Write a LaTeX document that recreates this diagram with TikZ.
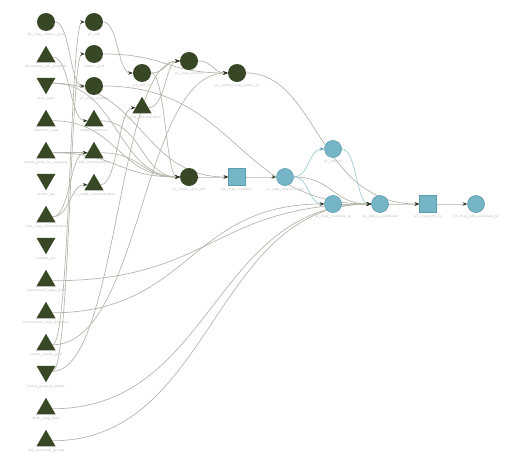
\documentclass[tikz,border=0pt]{standalone}
\usetikzlibrary{shapes.geometric,arrows.meta,backgrounds}
\definecolor{dg}{RGB}{56,72,38}
\definecolor{bl}{RGB}{118,181,198}
\definecolor{blb}{RGB}{90,157,177}
\definecolor{edgec}{RGB}{182,182,172}
\definecolor{bedge}{RGB}{160,203,215}
\definecolor{arrc}{RGB}{45,55,35}
\definecolor{labc}{RGB}{185,185,185}
\tikzset{
  gc/.style={circle, fill=dg, minimum size=18pt, inner sep=0pt},
  tu/.style={regular polygon, regular polygon sides=3, fill=dg, minimum size=22pt, inner sep=0pt},
  td/.style={tu, shape border rotate=180},
  bc/.style={circle, fill=bl, draw=blb, line width=0.6pt, minimum size=17pt, inner sep=0pt},
  bs/.style={rectangle, fill=bl, draw=blb, line width=0.6pt, minimum size=17pt, inner sep=0pt},
  lab/.style={font=\fontsize{3.6}{4}\sffamily, text=labc, inner sep=0pt},
  ed/.style={draw=edgec, line width=0.7pt, -{Stealth[length=4.5pt,width=3.5pt,color=arrc]}},
  bed/.style={draw=bedge, line width=0.7pt, -{Stealth[length=4.5pt,width=3.5pt,color=blb]}}
}
\begin{document}
\begin{tikzpicture}[x=1pt,y=-1pt]
\useasboundingbox (0,0) rectangle (521,471);
% column A
\node[gc] (A1) at (46,22) {};
\node[tu] (A2) at (46,56.75) {};
\node[td] (A3) at (46,83.25) {};
\node[tu] (A4) at (46,120.75) {};
\node[tu] (A5) at (46,152.75) {};
\node[td] (A6) at (46,179.25) {};
\node[tu] (A7) at (46,216.75) {};
\node[td] (A8) at (46,243.25) {};
\node[tu] (A9) at (46,280.75) {};
\node[tu] (A10) at (46,312.75) {};
\node[tu] (A11) at (46,344.75) {};
\node[td] (A12) at (46,371.25) {};
\node[tu] (A13) at (46,408.75) {};
\node[tu] (A14) at (46,440.75) {};
% column B
\node[gc] (B1) at (94,22) {};
\node[gc] (B2) at (94,54) {};
\node[gc] (B3) at (94,86) {};
\node[tu] (B4) at (94,120.75) {};
\node[tu] (B5) at (94,152.75) {};
\node[tu] (B6) at (94,184.75) {};
% further columns
\node[gc] (C1) at (142,73) {};
\node[tu] (C2) at (142,107.75) {};
\node[gc] (D1) at (189,61) {};
\node[gc] (D2) at (189,177) {};
\node[gc] (E1) at (237,73) {};
\node[bs] (E2) at (237,177) {};
\node[bc] (F) at (285,177) {};
\node[bc] (G1) at (333,149) {};
\node[bc] (G2) at (333,204) {};
\node[bc] (H) at (380,204) {};
\node[bs] (I) at (428,204) {};
\node[bc] (J) at (476,204) {};
% labels
\node[lab] (lA1) at (46,35) {p1\_map\_mission\_grid};
\node[lab] (lA2) at (46,67) {boundaries\_tdc\_shapefile};
\node[lab] (lA3) at (46,99) {map\_login};
\node[lab] (lA4) at (46,131) {inventory\_map};
\node[lab] (lA5) at (46,163) {subset\_grids\_for\_mapping};
\node[lab] (lA6) at (46,195) {month\_list};
\node[lab] (lA7) at (46,227) {read\_map\_characteristics};
\node[lab] (lA8) at (46,259) {bounds\_list};
\node[lab] (lA9) at (46,291) {commonsurf\_map\_data};
\node[lab] (lA10) at (46,323) {commonsurf\_map\_boundary};
\node[lab] (lA11) at (46,355) {render\_tmesis\_grid};
\node[lab] (lA12) at (46,387) {joined\_grouped\_subset};
\node[lab] (lA13) at (46,419) {fetch\_map\_data};
\node[lab] (lA14) at (46,451) {add\_download\_groups};
\node[lab] (lB1) at (94,35) {p1\_tdd};
\node[lab] (lB2) at (94,67) {mission\_grid};
\node[lab] (lB3) at (94,99) {p1\_map\_mission};
\node[lab] (lB4) at (94,131) {subset\_inventory};
\node[lab] (lB5) at (94,163) {add\_characteristics};
\node[lab] (lB6) at (94,195) {p1\_render\_characteristics};
\node[lab] (lC1) at (142,86) {p1\_tdd\_m};
\node[lab] (lC2) at (142,118) {p1\_grid\_characteristics};
\node[lab] (lD1) at (189,74) {p1\_map\_mission};
\node[lab] (lD2) at (189,190) {p1\_render\_grid\_sub};
\node[lab] (lE1) at (237,86) {p1\_render\_map\_render\_m};
\node[lab] (lE2) at (237,190) {p1\_map\_inventory};
\node[lab] (lF) at (285,190) {p1\_map\_inventory\_ani};
\node[lab] (lG1) at (333,162) {p1\_tdd\_tp};
\node[lab] (lG2) at (333,217) {p1\_map\_inventory\_tp};
\node[lab] (lH) at (380,217) {p1\_tdd\_tp\_combined};
\node[lab] (lI) at (428,217) {p1\_map\_tdd\_tp};
\node[lab] (lJ) at (476,217) {p1\_map\_tdd\_combined\_tp};
% edges
\begin{scope}[on background layer]
\draw[ed] (A1) .. controls +(24,0) and +(-24,0) .. (B3);
\draw[ed] (B1) .. controls +(24,0) and +(-24,0) .. (C1);
\draw[ed] (A2) .. controls +(24,0) and +(-24,0) .. (B4);
\draw[ed] (A3) .. controls +(71.5,0) and +(-71.5,0) .. (D2);
\draw[ed] (A3) .. controls +(95.5,0) and +(-95.5,0) .. (E2);
\draw[ed] (A4) .. controls +(71.5,0) and +(-71.5,0) .. (D2);
\draw[ed] (A5) .. controls +(24,0) and +(-24,0) .. (B5);
\draw[ed] (A5) .. controls +(71.5,0) and +(-71.5,0) .. (D2);
\draw[ed] (A7) .. controls +(24,0) and +(-24,0) .. (B6);
\draw[ed] (A7) .. controls +(24,0) and +(-24,0) .. (B5);
\draw[ed] (A11) .. controls +(24,0) and +(-24,0) .. (B1);
\draw[ed] (A12) .. controls +(24,0) and +(-24,0) .. (B2);
\draw[ed] (A12) .. controls +(71.5,0) and +(-71.5,0) .. (D1);
\draw[ed] (A11) .. controls +(95.5,0) and +(-95.5,0) .. (E1);
\draw[ed] (B6) .. controls +(24,0) and +(-24,0) .. (C2);
\draw[ed] (C1) .. controls +(23.5,0) and +(-23.5,0) .. (D1);
\draw[ed] (C2) .. controls +(23.5,0) and +(-23.5,0) .. (D1);
\draw[ed] (C1) .. controls +(23.5,0) and +(-23.5,0) .. (D2);
\draw[ed] (B4) .. controls +(47.5,0) and +(-47.5,0) .. (D2);
\draw[ed] (B5) .. controls +(47.5,0) and +(-47.5,0) .. (D2);
\draw[ed] (D1) .. controls +(24,0) and +(-24,0) .. (E1);
\draw[ed] (B2) .. controls +(71.5,0) and +(-71.5,0) .. (E1);
\draw[ed] (D2) .. controls +(24,0) and +(-24,0) .. (E2);
\draw[ed] (E2) .. controls +(24,0) and +(-24,0) .. (F);
\draw[bed] (F) .. controls +(24,0) and +(-24,0) .. (G1);
\draw[bed] (F) .. controls +(24,0) and +(-24,0) .. (G2);
\draw[ed] (F) .. controls +(47.5,0) and +(-47.5,0) .. (H);
\draw[bed] (G1) .. controls +(23.5,0) and +(-23.5,0) .. (H);
\draw[ed] (G2) .. controls +(23.5,0) and +(-23.5,0) .. (H);
\draw[ed] (H) .. controls +(24,0) and +(-24,0) .. (I);
\draw[ed] (I) .. controls +(24,0) and +(-24,0) .. (J);
\draw[ed] (E1) .. controls +(80,0) and +(-110,0) .. (I);
\draw[ed] (B3) .. controls +(143,0) and +(-143,0) .. (H);
\draw[ed] (A9) .. controls +(167,0) and +(-167,0) .. (H);
\draw[ed] (A10) .. controls +(143.5,0) and +(-143.5,0) .. (G2);
\draw[ed] (A13) .. controls +(167,0) and +(-167,0) .. (H);
\draw[ed] (A14) .. controls +(167,0) and +(-167,0) .. (H);
\end{scope}
\end{tikzpicture}
\end{document}
